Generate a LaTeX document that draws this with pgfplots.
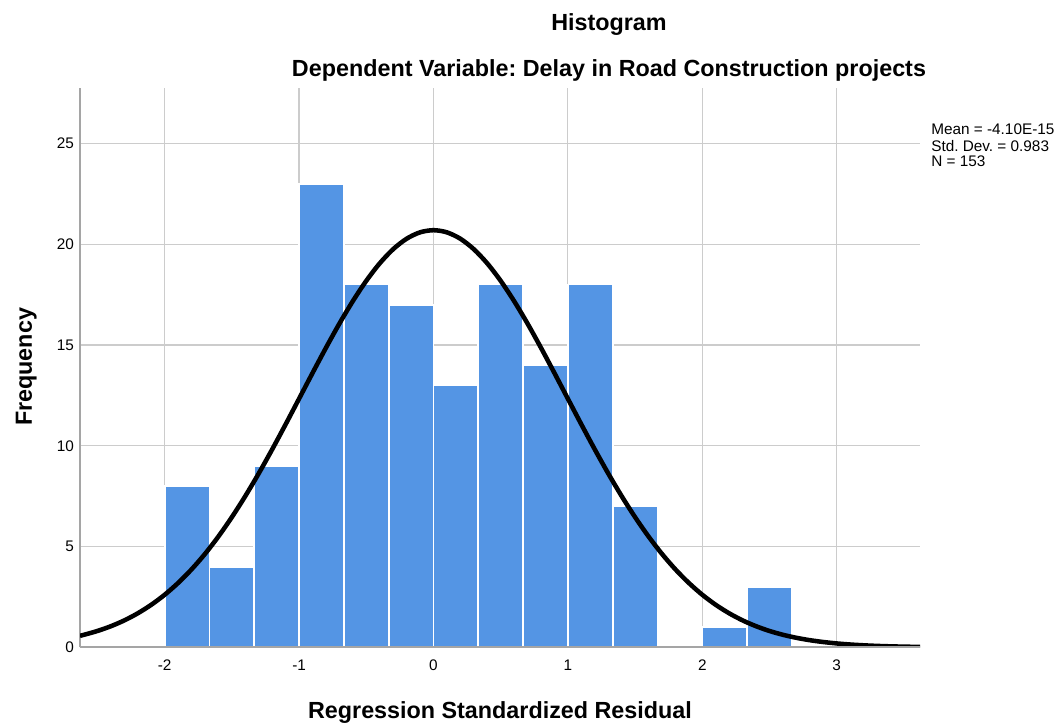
\documentclass[border=0pt]{standalone}
\usepackage{pgfplots}
\pgfplotsset{compat=1.18}
\usepackage{fontspec}
\setmainfont{Liberation Sans}
\frenchspacing
\definecolor{barblue}{RGB}{84,149,228}
\definecolor{gridgrey}{RGB}{204,204,204}
\definecolor{axisgrey}{RGB}{165,165,165}
\begin{document}
\frenchspacing
\begin{tikzpicture}
\path[use as bounding box] (0,0) rectangle (792.75pt,542.25pt);
\begin{axis}[
  at={(60pt,56.7pt)}, anchor=south west,
  scale only axis, width=630pt, height=419.5pt,
  xmin=-2.63, xmax=3.62, ymin=0, ymax=27.75,
  axis x line*=bottom, axis y line*=left,
  axis line style={draw=axisgrey, line width=1.6pt, -},
  xtick={-2,-1,0,1,2,3}, xticklabels={-2,-1,0,1,2,3},
  ytick={0,5,10,15,20,25}, yticklabels={0,5,10,15,20,25},
  major tick length=0pt,
  tick label style={font=\fontsize{11.5}{13}\selectfont},
  xticklabel style={yshift=-6pt},
  yticklabel style={xshift=-1pt},
  grid=major, major grid style={draw=gridgrey, line width=0.9pt},
  clip=true,
]
\addplot[ybar interval, fill=barblue, draw=white, line width=1.3pt] coordinates {
(-2,8) (-1.6667,4) (-1.3333,9) (-1,23) (-0.6667,18) (-0.3333,17) (0,13) (0.3333,18) (0.6667,14) (1,18) (1.3333,7) (1.6667,7)};
\addplot[ybar interval, fill=barblue, draw=white, line width=1.3pt] coordinates {
(2,1) (2.3333,3) (2.6667,3)};
\addplot[black, line width=3.4pt, smooth] coordinates {
(-2.63,0.577) (-2.6,0.626) (-2.5,0.815) (-2.4,1.051) (-2.3,1.340) (-2.2,1.692) (-2.1,2.113) (-2.0,2.612)
(-1.9,3.197) (-1.8,3.871) (-1.7,4.639) (-1.6,5.504) (-1.5,6.462) (-1.4,7.507) (-1.3,8.632) (-1.2,9.825)
(-1.1,11.067) (-1.0,12.337) (-0.9,13.611) (-0.8,14.863) (-0.7,16.063) (-0.6,17.180) (-0.5,18.186)
(-0.4,19.053) (-0.3,19.756) (-0.2,20.274) (-0.1,20.591) (0,20.698) (0.1,20.591) (0.2,20.274)
(0.3,19.756) (0.4,19.053) (0.5,18.186) (0.6,17.180) (0.7,16.063) (0.8,14.863) (0.9,13.611)
(1.0,12.337) (1.1,11.067) (1.2,9.825) (1.3,8.632) (1.4,7.507) (1.5,6.462) (1.6,5.504) (1.7,4.639)
(1.8,3.871) (1.9,3.197) (2.0,2.612) (2.1,2.113) (2.2,1.692) (2.3,1.340) (2.4,1.051) (2.5,0.815)
(2.6,0.626) (2.7,0.476) (2.8,0.358) (2.9,0.267) (3.0,0.1965) (3.1,0.1433) (3.2,0.1035) (3.3,0.0739)
(3.4,0.0523) (3.5,0.0366) (3.6,0.0253) (3.62,0.0235)};
\draw[axisgrey, line width=1.6pt] (rel axis cs:0,0) -- (rel axis cs:1,0);
\end{axis}
\node[anchor=base, font=\fontsize{17.5}{20}\selectfont\bfseries] at (456.75pt,519pt) {Histogram};
\node[anchor=base, font=\fontsize{17.5}{20}\selectfont\bfseries] at (456.75pt,484.5pt) {Dependent Variable: Delay in Road Construction projects};
\node[anchor=base, font=\fontsize{17.5}{20}\selectfont\bfseries] at (375pt,3pt) {Regression Standardized Residual};
\node[anchor=base, rotate=90, font=\fontsize{17.5}{20}\selectfont\bfseries] at (24pt,267pt) {Frequency};
\node[anchor=base west, inner sep=0pt, font=\fontsize{11.5}{13}\selectfont] at (698.25pt,441pt) {Mean = -4.10E-15};
\node[anchor=base west, inner sep=0pt, font=\fontsize{11.5}{13}\selectfont] at (698.25pt,428.25pt) {Std. Dev. = 0.983};
\node[anchor=base west, inner sep=0pt, font=\fontsize{11.5}{13}\selectfont] at (698.25pt,417pt) {N = 153};
\end{tikzpicture}
\end{document}
